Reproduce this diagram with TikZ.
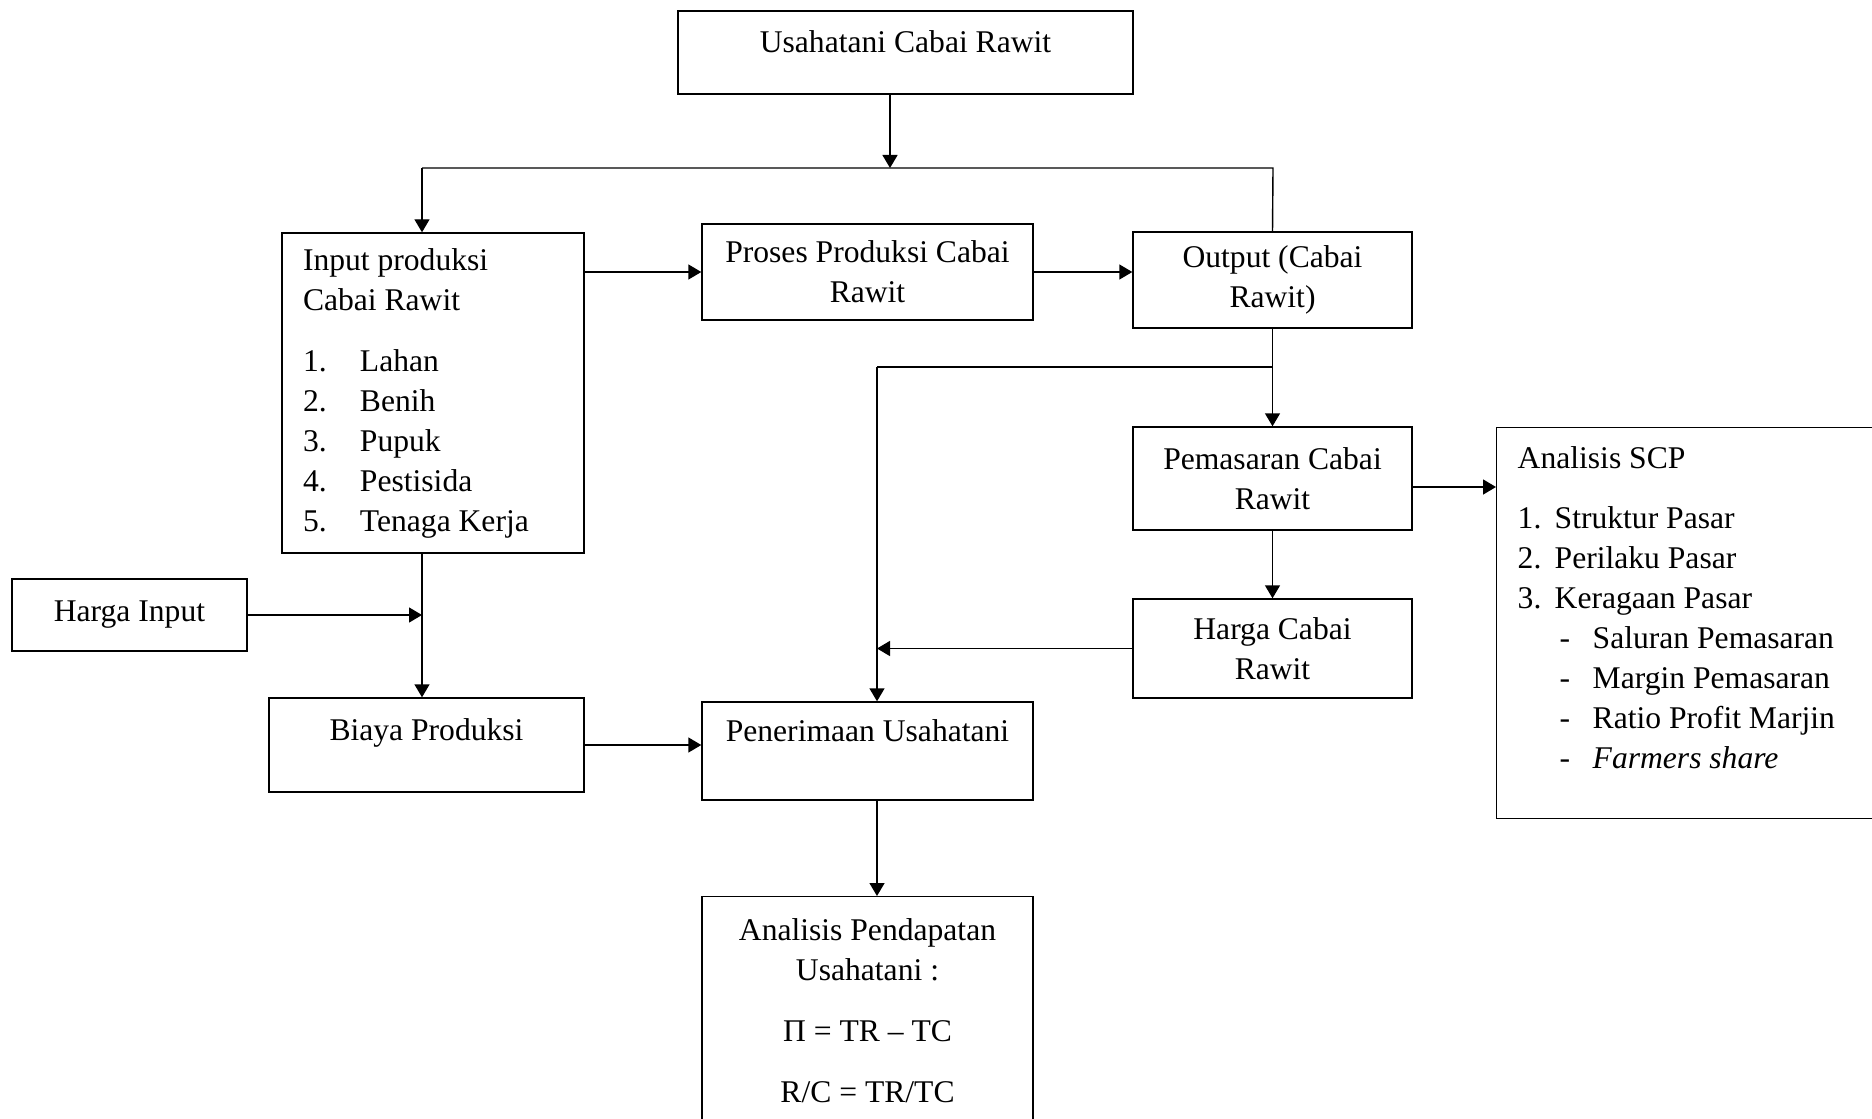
\documentclass[tikz,border=0pt]{standalone}
\usepackage{fontspec}
\setmainfont{Liberation Serif}
\usetikzlibrary{arrows.meta}

\begin{document}
\begin{tikzpicture}[x=0.5pt, y=-0.5pt,
    font=\fontsize{15.8pt}{20pt}\selectfont,
    line width=0.7pt,
    box/.style={draw, rectangle, inner sep=0pt, align=center},
    listbox/.style={draw, rectangle, inner ysep=0pt, inner xsep=10.5pt, align=flush left},
    panah/.style={-{Triangle[length=6.5pt, width=7.5pt]}}]
  \useasboundingbox (0,0) rectangle (1872,1118);
  \clip (0,0) rectangle (1872,1118);

  \node[box, minimum width=227.5pt, minimum height=41.5pt, text height=11pt, text depth=11pt] (usahatani) at (905.5,52.5) {Usahatani Cabai Rawit};

  \node[listbox, minimum width=151pt, text width=130pt, minimum height=160pt] (input) at (433,393)
    {Input produksi\\Cabai Rawit\\[10.5pt]
     \makebox[28.5pt][l]{1.}Lahan\\
     \makebox[28.5pt][l]{2.}Benih\\
     \makebox[28.5pt][l]{3.}Pupuk\\
     \makebox[28.5pt][l]{4.}Pestisida\\
     \makebox[28.5pt][l]{5.}Tenaga Kerja};
  \node[box, minimum width=165.5pt, minimum height=48pt] (proses) at (867.5,272) {Proses Produksi Cabai\\Rawit};
  \node[box, minimum width=139.5pt, minimum height=48pt] (output) at (1272.5,280) {Output (Cabai\\Rawit)};

  \node[box, minimum width=139.5pt, minimum height=51.5pt] (pemasaran) at (1272.5,478.5) {Pemasaran Cabai\\Rawit};
  \node[listbox, anchor=north west, text width=172pt, minimum height=195.5pt] (scp) at (1496,427)
    {Analisis SCP\\[10pt]
     \makebox[18.5pt][l]{1.}Struktur Pasar\\
     \makebox[18.5pt][l]{2.}Perilaku Pasar\\
     \makebox[18.5pt][l]{3.}Keragaan Pasar\\
     \hspace*{21pt}\makebox[16.5pt][l]{-}Saluran Pemasaran\\
     \hspace*{21pt}\makebox[16.5pt][l]{-}Margin Pemasaran\\
     \hspace*{21pt}\makebox[16.5pt][l]{-}Ratio Profit Marjin\\
     \hspace*{21pt}\makebox[16.5pt][l]{-}\emph{Farmers share}\\[-4pt]\mbox{}};
  \node[box, minimum width=139.5pt, minimum height=49.5pt] (hargacabai) at (1272.5,648.5) {Harga Cabai\\Rawit};

  \node[box, minimum width=117.5pt, minimum height=36pt] (hargainput) at (129.5,615) {Harga Input};
  \node[box, minimum width=157.5pt, minimum height=47pt, text height=11pt, text depth=16pt] (biaya) at (426.5,745) {Biaya Produksi};
  \node[box, minimum width=165.5pt, minimum height=49pt, text height=11pt, text depth=21pt] (penerimaan) at (867.5,751) {Penerimaan Usahatani};
  \node[box, anchor=north, minimum width=165.5pt, minimum height=113.5pt] (pendapatan) at (867.5,896)
    {Analisis Pendapatan\\Usahatani :\\[10.5pt]
     Π = TR – TC\\[10.5pt]
     R/C = TR/TC};

  \coordinate (pisah) at (890,168);
  \coordinate (pisahkiri) at (422,168);
  \coordinate (pisahkanan) at (1273,168);
  \coordinate (gabung) at (1273,367);
  \coordinate (terima) at (877,367);

  \draw[panah] (usahatani.south -| pisah) -- (pisah);
  \draw (pisahkiri) -- (pisahkanan) -- (output.north);
  \draw[panah] (pisahkiri) -- (pisahkiri |- input.north);
  \draw[panah] (input.east |- proses.west) -- (proses.west);
  \draw[panah] (proses.east) -- (proses.east -| output.west);
  \draw[panah] (output.south) -- (pemasaran.north);
  \draw (gabung) -- (terima);
  \draw[panah] (terima) -- (terima |- penerimaan.north);
  \draw[panah] ([yshift=-4.25pt]pemasaran.east) -- ([yshift=-4.25pt]pemasaran.east -| scp.west);
  \draw[panah] (pemasaran.south) -- (hargacabai.north);
  \draw[panah] (hargacabai.west) -- (hargacabai.west -| terima);
  \draw[panah] (hargainput.east) -- (hargainput.east -| pisahkiri);
  \draw[panah] (pisahkiri |- input.south) -- (pisahkiri |- biaya.north);
  \draw[panah] (biaya.east) -- (biaya.east -| penerimaan.west);
  \draw[panah] (terima |- penerimaan.south) -- (terima |- pendapatan.north);
\end{tikzpicture}
\end{document}
